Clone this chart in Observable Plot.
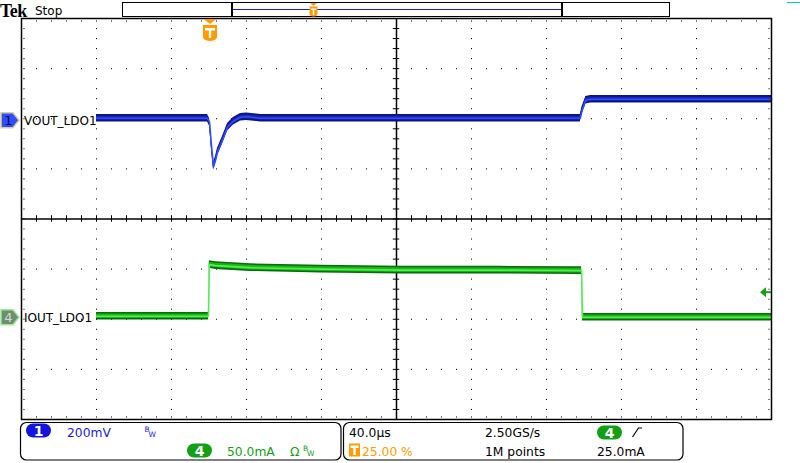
<!DOCTYPE html>
<html><head><meta charset="utf-8">
<script src="https://cdn.jsdelivr.net/npm/d3@7"></script>
<script src="https://cdn.jsdelivr.net/npm/@observablehq/plot@0.6"></script>
<style>
html,body{margin:0;padding:0;background:#fff;}
svg{display:block;}
</style></head><body><div id="chart"></div>
<script>
// ---- data (time in µs relative to trigger, amplitude in screen divisions) ----
const voutTime = [-60, -0.8, 0.3, 1.3, 2.4, 3.5, 4.5, 7.2, 9.9, 13, 16.8, 20, 27.5, 198, 199, 201, 203.5, 300];
const voutDiv  = [2.01, 2.01, 1.93, 1.47, 1.05, 1.17, 1.33, 1.57, 1.83, 1.95, 2.03, 2.04, 2.01, 2.01, 2.17, 2.37, 2.39, 2.39];
const ioutTime = [-60, -0.3, 0.2, 3.5, 22, 59.5, 102, 155.5, 198, 198.7, 199.2, 300];
const ioutDiv  = [-1.94, -1.94, -0.91, -0.93, -0.97, -1.0, -1.02, -1.02, -1.03, -1.03, -1.96, -1.96];

const channelNames = ["VOUT_LDO1", "IOUT_LDO1"];
const channelGround = [1.96, -1.97];     // divisions
const triggerTime = 0;                    // µs
const triggerLevel = -1.47;               // divisions (25.0mA on ch4)

const timeDomain = [-100, 300];           // 40.0µs/div, 10 div
const divDomain = [-4, 4];
const majorTime = [-60, -20, 20, 60, 140, 180, 220, 260];
const majorDiv = [-3, -2, -1, 1, 2, 3];
const centerTime = 100, centerDiv = 0;

const ch1Scale = "200mV", ch4Scale = "50.0mA";
const timebase = "40.0µs", triggerPos = "25.00 %";
const sampleRate = "2.50GS/s", recordLen = "1M points", trigLevelText = "25.0mA";

// ---- derived tables ----
const vout = voutTime.map((t, i) => ({t, v: voutDiv[i]}));
const iout = ioutTime.map((t, i) => ({t, v: ioutDiv[i]}));
const minorTime = d3.range(timeDomain[0], timeDomain[1] + 0.01, 8);
const minorDiv = d3.range(-20, 21).map(k => k / 5);
const vGridDots = majorTime.flatMap(t => minorDiv.map(v => ({t, v})));
const hGridDots = majorDiv.flatMap(v => minorTime.map(t => ({t, v})));

const dotOpt = {r: 0.6, symbol: "square", fill: "#000", stroke: "none"};

const chart = Plot.plot({
  width: 800, height: 463,
  marginLeft: 21, marginRight: 29, marginTop: 18, marginBottom: 44,
  x: {domain: timeDomain, axis: null},
  y: {domain: divDomain, axis: null},
  style: {background: "#fff", fontFamily: "DejaVu Sans"},
  marks: [
    Plot.dot(vGridDots, {x: "t", y: "v", ...dotOpt}),
    Plot.dot(hGridDots, {x: "t", y: "v", ...dotOpt}),
    Plot.dot(minorTime, {x: d => d, y: divDomain[1], dy: 2.5, ...dotOpt}),
    Plot.dot(minorTime, {x: d => d, y: divDomain[0], dy: -2.5, ...dotOpt}),
    Plot.dot(minorDiv, {y: d => d, x: timeDomain[0], dx: 2.5, ...dotOpt}),
    Plot.dot(minorDiv, {y: d => d, x: timeDomain[1], dx: -2.5, ...dotOpt}),
    Plot.ruleY([centerDiv], {stroke: "#000", strokeWidth: 1.5}),
    Plot.ruleX([centerTime], {stroke: "#000", strokeWidth: 1.5}),
    Plot.ruleX(minorTime, {x: d => d, y1: -0.065, y2: 0.065, stroke: "#000", strokeWidth: 1}),
    Plot.ruleY(minorDiv, {y: d => d, x1: centerTime - 1.7, x2: centerTime + 1.7, stroke: "#000", strokeWidth: 1}),
    // VOUT trace
    Plot.areaY(vout, {x: "t", y1: d => d.v - 0.075, y2: d => d.v + 0.075, fill: "#0c1578"}),
    Plot.areaY(vout, {x: "t", y1: d => d.v - 0.04, y2: d => d.v + 0.04, fill: "#1626b8"}),
    Plot.line(vout, {x: "t", y: "v", stroke: "#2f4cff", strokeWidth: 1.6}),
    // IOUT trace
    Plot.areaY(iout, {x: "t", y1: d => d.v - 0.075, y2: d => d.v + 0.075, fill: "#0b6a0b"}),
    Plot.areaY(iout, {x: "t", y1: d => d.v - 0.045, y2: d => d.v + 0.045, fill: "#18b418"}),
    Plot.line(iout, {x: "t", y: "v", stroke: "#50f050", strokeWidth: 1.6}),
    Plot.frame({stroke: "#000", strokeWidth: 1.5})
  ]
});
document.getElementById("chart").appendChild(chart);

// ---- scope chrome overlay ----
const X = chart.scale("x").apply, Y = chart.scale("y").apply;
const svg = d3.select(chart);
const g = svg.append("g").attr("font-family", "DejaVu Sans").attr("font-size", 12).attr("text-anchor", "start");

// channel labels
channelNames.forEach((name, i) => {
  const yy = Y(channelGround[i]);
  g.append("text").attr("x", 24).attr("y", yy + 4.5).attr("fill", "#000").text(name);
});

// channel markers
function marker(yy, fill, stroke, txtFill, label) {
  g.append("path")
    .attr("d", `M1,${yy-7.5} L13,${yy-7.5} L19,${yy} L13,${yy+7.5} L1,${yy+7.5} Z`)
    .attr("fill", fill).attr("stroke", stroke).attr("stroke-width", 1.5);
  g.append("text").attr("x", 8.5).attr("y", yy + 4.5).attr("text-anchor", "middle")
    .attr("font-size", 13).attr("fill", txtFill).text(label);
}
marker(Y(channelGround[0]), "#2f4cff", "#d6cf98", "#0a0a50", "1");
marker(Y(channelGround[1]), "#6e8e6e", "#9ee69e", "#d8d8d8", "4");

// trigger marker on top of graticule
{
  const tx = X(triggerTime) + 1.5;
  g.append("path").attr("d", `M${tx-6.5},19 L${tx+6.5},19 L${tx},24 Z`).attr("fill", "#ff9a00");
  g.append("path").attr("d", `M${tx-7},25 L${tx+7},25 L${tx+7},37 Q${tx+7},40.5 ${tx},41 Q${tx-7},40.5 ${tx-7},37 Z`).attr("fill", "#ff9a00");
  g.append("path").attr("d", `M${tx-5},28 L${tx+5},28 L${tx+5},30.5 L${tx+1.2},30.5 L${tx+1.2},38 L${tx-1.2},38 L${tx-1.2},30.5 L${tx-5},30.5 Z`).attr("fill", "#fff");
}

// trigger level arrow on the right
{
  const ty = Y(triggerLevel);
  g.append("path").attr("d", `M760,${ty} L766,${ty-5} L766,${ty+5} Z`).attr("fill", "#10a010");
  g.append("line").attr("x1", 765).attr("x2", 771).attr("y1", ty).attr("y2", ty).attr("stroke", "#10a010").attr("stroke-width", 2);
}

// top bar
g.append("text").attr("x", 0).attr("y", 16.5).attr("font-family", "Liberation Serif").attr("font-weight", "bold").attr("font-size", 18).attr("letter-spacing", -0.5).text("Tek");
g.append("text").attr("x", 35).attr("y", 15).text("Stop");
g.append("rect").attr("x", 122.5).attr("y", 2.5).attr("width", 547).attr("height", 14).attr("fill", "#fff").attr("stroke", "#000").attr("stroke-width", 1);
g.append("line").attr("x1", 232).attr("x2", 562).attr("y1", 9.5).attr("y2", 9.5).attr("stroke", "#1a1acc").attr("stroke-width", 1);
g.append("line").attr("x1", 232).attr("x2", 232).attr("y1", 2.5).attr("y2", 16.5).attr("stroke", "#000").attr("stroke-width", 2);
g.append("line").attr("x1", 562).attr("x2", 562).attr("y1", 2.5).attr("y2", 16.5).attr("stroke", "#000").attr("stroke-width", 2);
{
  const sx = 313.5;
  g.append("path").attr("d", `M${sx-3.5},3 L${sx+3.5},3 L${sx},6 Z`).attr("fill", "#ff9a00");
  g.append("path").attr("d", `M${sx-4},6.5 L${sx+4},6.5 L${sx+4},14 Q${sx+4},16 ${sx},16.5 Q${sx-4},16 ${sx-4},14 Z`).attr("fill", "#ff9a00");
  g.append("path").attr("d", `M${sx-2.8},8.5 L${sx+2.8},8.5 L${sx+2.8},10 L${sx+0.7},10 L${sx+0.7},15 L${sx-0.7},15 L${sx-0.7},10 L${sx-2.8},10 Z`).attr("fill", "#fff");
}
g.append("line").attr("x1", 787).attr("x2", 800).attr("y1", 2.5).attr("y2", 2.5).attr("stroke", "#00c8d0").attr("stroke-width", 1);

// bottom info boxes
g.append("rect").attr("x", 20.5).attr("y", 422.5).attr("width", 320.5).attr("height", 37.5).attr("rx", 6).attr("fill", "none").attr("stroke", "#000").attr("stroke-width", 1.2);
g.append("rect").attr("x", 343.5).attr("y", 422.5).attr("width", 339.5).attr("height", 37.5).attr("rx", 6).attr("fill", "none").attr("stroke", "#000").attr("stroke-width", 1.2);

function pill(x, y, fill, label) {
  g.append("rect").attr("x", x).attr("y", y).attr("width", 25).attr("height", 14).attr("rx", 7).attr("fill", fill);
  g.append("text").attr("x", x + 12.5).attr("y", y + 12).attr("text-anchor", "middle").attr("font-size", 14).attr("font-weight", "bold").attr("fill", "#fff").text(label);
}
pill(26, 423.5, "#1414e0", "1");
pill(187, 443.5, "#14a014", "4");
pill(597, 425.5, "#14a014", "4");

function bw(x, yb, fill) {
  g.append("text").attr("x", x).attr("y", yb - 5).attr("font-size", 7.5).attr("fill", fill).text("B");
  g.append("text").attr("x", x + 4).attr("y", yb).attr("font-size", 7.5).attr("fill", fill).text("W");
}
g.append("text").attr("x", 67).attr("y", 437).attr("fill", "#1a1ae0").attr("font-size", 12.3).text(ch1Scale);
bw(144.5, 437, "#1a1ae0");
g.append("text").attr("x", 227).attr("y", 456).attr("fill", "#10a010").attr("font-size", 12.3).text(ch4Scale);
g.append("text").attr("x", 290).attr("y", 456).attr("fill", "#10a010").attr("font-size", 12.3).text("Ω");
bw(303, 456, "#10a010");

g.append("text").attr("x", 349).attr("y", 437).attr("fill", "#000").attr("font-size", 12.3).text(timebase);
g.append("rect").attr("x", 349).attr("y", 443.5).attr("width", 11).attr("height", 13).attr("fill", "#ff9a00");
g.append("path").attr("d", "M350.5,445.5 L358.5,445.5 L358.5,448 L355.7,448 L355.7,455 L353.3,455 L353.3,448 L350.5,448 Z").attr("fill", "#fff");
g.append("text").attr("x", 362).attr("y", 456).attr("fill", "#ff9a00").attr("font-size", 12.3).text(triggerPos);
g.append("text").attr("x", 485).attr("y", 437).attr("fill", "#000").attr("font-size", 12.3).text(sampleRate);
g.append("text").attr("x", 485).attr("y", 456).attr("fill", "#000").attr("font-size", 12.3).text(recordLen);
g.append("path").attr("d", "M632.5,437 L638.5,428 L642,428").attr("fill", "none").attr("stroke", "#000").attr("stroke-width", 1.2);
g.append("text").attr("x", 597).attr("y", 456).attr("fill", "#000").attr("font-size", 12.3).text(trigLevelText);
</script></body></html>
